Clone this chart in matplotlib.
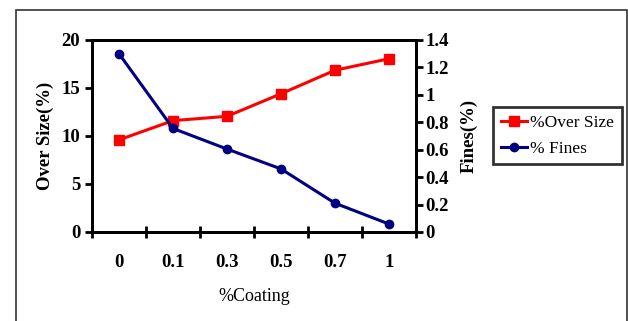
import matplotlib.pyplot as plt
from matplotlib.patches import Rectangle
from matplotlib.lines import Line2D

coating = ["0", "0.1", "0.3", "0.5", "0.7", "1"]
over_size = [9.6, 11.6, 12.05, 14.4, 16.85, 18.05]
fines = [1.30, 0.755, 0.605, 0.46, 0.21, 0.058]

plt.rcParams['font.family'] = ['Liberation Serif', 'DejaVu Serif']

fig = plt.figure(figsize=(6.28, 3.21), dpi=100)
W, H = 628, 321
ax = fig.add_axes([92 / W, 1 - 232 / H, 324 / W, 192 / H])
ax2 = ax.twinx()

# outer chart border
fig.patches.append(Rectangle((16 / W, -0.05), 611 / W, 1 - 10 / H + 0.05,
                             transform=fig.transFigure, fill=False,
                             edgecolor='#333333', lw=1.2, clip_on=False))

x = list(range(len(coating)))
ax.plot(x, over_size, color='#FF0000', lw=2.2, marker='s', ms=6.5,
        label='%Over Size', zorder=3)
ax2.plot(x, fines, color='#000080', lw=2.2, marker='o', ms=6,
         label='% Fines', zorder=3)

ax.set_xlim(-0.5, 5.5)
ax.set_ylim(0, 20)
ax2.set_ylim(0, 1.4)
ax.set_yticks([0, 5, 10, 15, 20])
ax2.set_yticks([0, 0.2, 0.4, 0.6, 0.8, 1.0, 1.2, 1.4])
ax2.set_yticklabels(["0", "0.2", "0.4", "0.6", "0.8", "1", "1.2", "1.4"])

ax.set_xticks([i + 0.5 for i in range(-1, 6)])
ax.set_xticklabels([])
ax.set_xticks(x, minor=True)
ax.set_xticklabels(coating, minor=True, fontsize=13.5, fontweight='bold')
ax.tick_params(axis='x', which='major', direction='inout', length=9, width=2)
ax.tick_params(axis='x', which='minor', length=0, pad=16)
ax.tick_params(axis='y', direction='out', length=5, width=2, labelsize=13.5)
ax2.tick_params(axis='y', direction='out', length=5, width=2, labelsize=13.5,
                pad=2)
for lab in ax.get_yticklabels() + ax2.get_yticklabels():
    lab.set_fontweight('bold')

for a in (ax, ax2):
    for s in a.spines.values():
        s.set_linewidth(2)
        s.set_color('black')

ax.set_ylabel('Over Size(%)', fontsize=13.5, fontweight='bold', labelpad=5)
ax2.set_ylabel('Fines(%)', fontsize=13.5, fontweight='bold', labelpad=8)
ax.set_xlabel('%Coating', fontsize=13, labelpad=12)

handles = [Line2D([], [], color='#FF0000', lw=2.2, marker='s', ms=6.5),
           Line2D([], [], color='#000080', lw=2.2, marker='o', ms=6)]
leg = fig.legend(handles, ['%Over Size', '% Fines'], loc='upper left',
                 bbox_to_anchor=(493 / W, 1 - 107 / H), fontsize=12.5,
                 frameon=True, fancybox=False, borderpad=0.45,
                 handlelength=1.5, handletextpad=0.2, labelspacing=0.55,
                 borderaxespad=0)
leg.get_frame().set_edgecolor('black')
leg.get_frame().set_linewidth(2)

fig.savefig('out.png', dpi=100)
